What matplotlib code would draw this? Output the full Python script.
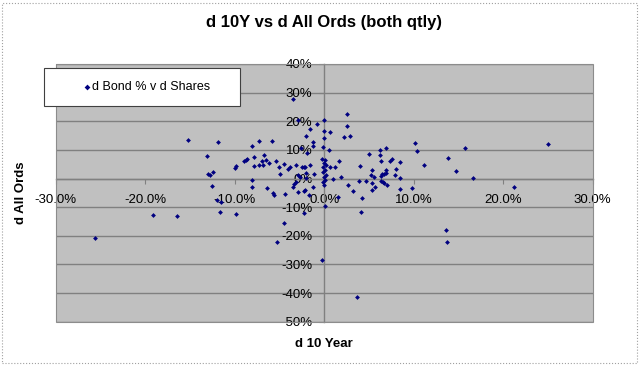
import matplotlib
matplotlib.use('Agg')
from matplotlib import pyplot as plt
from matplotlib.patches import Rectangle
from matplotlib.ticker import FuncFormatter, MultipleLocator

plt.rcParams['font.family'] = ['Liberation Sans', 'DejaVu Sans']

# change in 10 year bond yield (%), change in All Ords (%), quarterly
bondChange = [
    -25.6, -19.1, -16.4, -15.2, -13.1, -13.0, -12.8, -12.4, -12.5, -11.9,
    -12.0, -11.5, -11.6, -9.8, -10.0, -9.9, -9.0, -8.7, -8.6, -8.1,
    -7.3, -7.8, -7.8, -7.3, -7.0, -6.7, -6.8, -6.5, -6.2, -8.1,
    -8.1, -5.8, -6.4, -5.7, -5.6, -5.4, -5.1, -4.9, -4.5, -4.4,
    -4.1, -3.8, -4.5, -5.3, -3.1, -3.5, -3.4, -3.2, -2.9, -2.9,
    -2.7, -2.5, -2.3, -2.2, -2.3, -2.1, -2.3, -2.0, -2.0, -1.9,
    -2.6, -2.0, -1.6, -1.7, -1.6, -1.2, -1.3, -0.8, -1.1, -1.2,
    -3.5, -2.9, -0.3,
    0.0, 0.0, 0.0, -0.1, -0.2, 0.1, 0.0, 0.2, -0.1, 0.1,
    -0.1, 0.2, 0.0, 0.1, -0.1, 0.0,
    0.7, 0.5, 2.5, 2.5, 2.2, 2.9, 0.6, 1.2, 1.7, 1.0,
    1.9, 1.5, 0.1, 2.7, 3.2, 4.0, 3.9, 4.7, 4.2, 4.1,
    5.0, 5.3, 5.2, 5.3, 5.6, 5.3, 5.7, 6.2, 6.2, 6.9,
    6.4, 6.3, 6.5, 6.7, 6.9, 6.3, 6.6, 6.7, 7.0, 6.9,
    7.3, 7.6, 8.0, 7.9, 8.5, 8.5, 8.5, 9.8, 10.2, 10.4,
    11.1, 13.8, 14.7, 15.7, 16.6, 13.6, 13.7, 21.2, 25.0, 3.7,
]
sharesChange = [
    -20.9, -12.6, -13.0, 13.4, 8.0, 1.5, 1.3, 2.2, -2.6, 12.7,
    -7.4, -8.3, -11.6, -12.5, 3.6, 4.3, 6.0, 6.6, 6.8, 11.5,
    13.2, 7.5, 4.5, 4.6, 6.0, 8.2, 4.6, 6.6, 5.5, -0.4,
    -2.8, 13.0, -3.4, -4.9, -5.6, 6.0, 4.2, 1.6, 5.2, -5.3,
    3.4, 3.9, -15.7, -22.3, 4.8, -2.8, -2.0, -1.3, 1.3, -4.6,
    0.6, 3.9, 3.9, 3.9, -4.2, -3.9, -12.0, 0.1, 1.9, 8.9,
    10.5, 15.0, 17.4, -5.7, 4.6, 12.8, 11.2, 19.1, 1.6, -2.8,
    27.7, 20.6, -28.5,
    20.4, 16.7, 14.2, 10.9, 6.8, 6.3, 5.4, 4.8, 3.9, 3.1,
    2.2, 1.3, 0.4, -0.6, -1.3, -2.2,
    16.3, 10.1, 22.7, 18.2, 14.4, 14.9, 4.0, 4.0, 6.0, -0.2,
    0.5, -6.6, -9.5, -2.2, -4.2, 4.5, -0.7, -0.9, -6.9, -11.6,
    8.7, 2.9, 1.2, -1.6, 0.4, -4.0, -3.0, 10.1, 8.2, 10.7,
    6.0, 0.9, 1.5, 1.6, 1.8, -0.8, -1.3, -1.6, -2.2, 2.9,
    6.2, 6.8, 3.4, 1.3, 5.6, 0.1, -3.8, -3.3, 12.5, 9.7,
    4.8, 7.3, 2.5, 10.8, 0.2, -17.9, -22.3, -2.9, 12.1, -41.5,
]

title = 'd 10Y vs d All Ords (both qtly)'
xTitle = 'd 10 Year'
yTitle = 'd All Ords'
seriesName = 'd Bond % v d Shares'

W, H = 640, 365
fig = plt.figure(figsize=(6.4, 3.65), dpi=100)
ax = fig.add_axes([55.7 / W, 1 - 321.7 / H, 537 / W, 257.7 / H])
ax.set_facecolor('#c0c0c0')

ax.scatter(bondChange, sharesChange, marker='D', s=6, color='#000080',
           linewidths=0, zorder=4, label=seriesName)

ax.set_xlim(-30, 30)
ax.set_ylim(-50, 40)
ax.xaxis.set_major_locator(MultipleLocator(10))
ax.yaxis.set_major_locator(MultipleLocator(10))
ax.xaxis.set_major_formatter(FuncFormatter(lambda v, p: '%.1f%%' % v))
ax.yaxis.set_major_formatter(FuncFormatter(lambda v, p: '%d%%' % round(v)))

# axes cross at zero, like excel
ax.spines['left'].set_position(('data', 0))
ax.spines['bottom'].set_position(('data', 0))
for side in ['left', 'bottom']:
    ax.spines[side].set_color('#808080')
    ax.spines[side].set_linewidth(1)
for side in ['top', 'right']:
    ax.spines[side].set_visible(False)
ax.add_patch(Rectangle((0, 0), 1, 1, transform=ax.transAxes, fill=False,
                       edgecolor='#8c8c8c', linewidth=0.8, zorder=3,
                       clip_on=False))

ax.tick_params(direction='out', length=3.5, width=0.8, color='#808080',
               labelsize=9.5, labelcolor='black')
ax.tick_params(axis='x', pad=7.5)
ax.tick_params(axis='y', pad=5)
ax.yaxis.grid(True, color='#808080', linewidth=1)
ax.xaxis.grid(False)
ax.set_axisbelow(True)

fig.text(324 / W, 1 - 22 / H, title, ha='center', va='center',
         fontsize=12, fontweight='bold')
fig.text(324 / W, 1 - 344 / H, xTitle, ha='center', va='center',
         fontsize=9.5, fontweight='bold')
fig.text(21 / W, 1 - 193 / H, yTitle, ha='center', va='center',
         fontsize=9.5, fontweight='bold', rotation=90)

# legend box
fig.patches.append(Rectangle((44 / W, 1 - 106 / H), 196 / W, 38 / H,
                             transform=fig.transFigure, facecolor='white',
                             edgecolor='#404040', linewidth=0.8, zorder=5))
lgd = fig.legend(loc='center left', bbox_to_anchor=(78 / W, 1 - 87 / H),
                 frameon=False, fontsize=9, borderpad=0, handlelength=0.5,
                 handletextpad=0.1, scatterpoints=1, markerscale=1.2)
lgd.set_zorder(6)

# dotted outer frame
fig.patches.append(Rectangle((2 / W, 2 / H), 635 / W, 360 / H,
                             transform=fig.transFigure, fill=False,
                             edgecolor='#a0a0a0', linewidth=0.8,
                             linestyle=':'))

fig.savefig('out.png', dpi=100)
